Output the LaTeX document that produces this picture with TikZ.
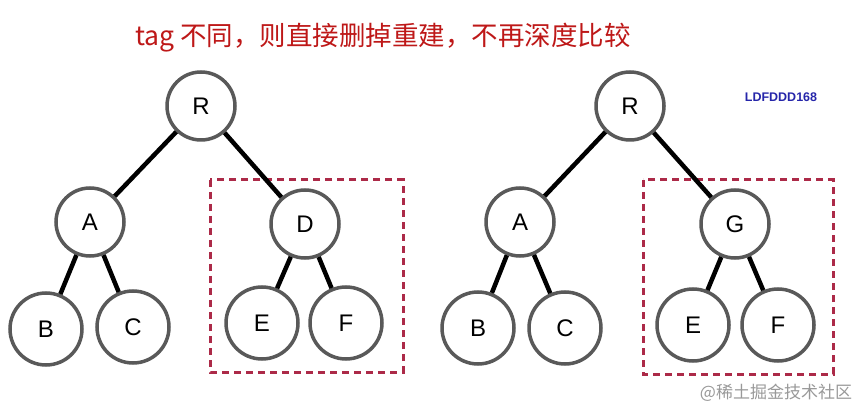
\documentclass[tikz,border=0pt]{standalone}
\usepackage{fontspec}
\setmainfont{Liberation Sans}
\newfontfamily\cjk{Noto Sans CJK SC}[BoldFont={Noto Sans CJK SC Bold}]
\definecolor{titlered}{RGB}{190,24,24}
\definecolor{boxred}{RGB}{172,42,72}
\definecolor{markblue}{RGB}{38,38,170}
\tikzset{
	tnode/.style={circle,draw=black!65,line width=3.5pt,fill=white,minimum size=68pt,inner sep=0pt,font=\fontsize{24}{24}\selectfont},
	tedge/.style={line width=4.5pt,black},
	gbox/.style={draw=boxred,line width=3pt,dash pattern=on 7pt off 5pt}
}
\begin{document}
\begin{tikzpicture}[x=1pt,y=-1pt]
		    \useasboundingbox[fill=white](0,0) rectangle (861,411);
		    \draw[gbox](210,180) rectangle (403,372);
		    \draw[gbox](643,180) rectangle (833,374);
		    \node[tnode](r1) at (201,106) {R};
		    \node[tnode](a1) at (90,222) {A};
		    \node[tnode](d1) at (305,224) {D};
		    \node[tnode,minimum size=72pt](b1) at (46,329) {B};
		    \node[tnode,minimum size=72pt](c1) at (133,327) {C};
		    \node[tnode,minimum size=72pt](e1) at (262,323) {E};
		    \node[tnode,minimum size=72pt](f1) at (346,323) {F};
		    \node[tnode](r2) at (630,106) {R};
		    \node[tnode](a2) at (520,222) {A};
		    \node[tnode](g2) at (735,224) {G};
		    \node[tnode,minimum size=72pt](b2) at (478,328) {B};
		    \node[tnode,minimum size=72pt](c2) at (565,328) {C};
		    \node[tnode,minimum size=72pt](e2) at (693,325) {E};
		    \node[tnode,minimum size=72pt](f2) at (778,325) {F};
		    \draw[tedge](r1)--(a1);
		    \draw[tedge](r1)--(d1);
		    \draw[tedge](a1)--(b1);
		    \draw[tedge](a1)--(c1);
		    \draw[tedge](d1)--(e1);
		    \draw[tedge](d1)--(f1);
		    \draw[tedge](r2)--(a2);
		    \draw[tedge](r2)--(g2);
		    \draw[tedge](a2)--(b2);
		    \draw[tedge](a2)--(c2);
		    \draw[tedge](g2)--(e2);
		    \draw[tedge](g2)--(f2);
		    \node[text=titlered,font=\cjk\fontsize{26.5}{26.5}\selectfont](title) at (383,38) {tag 不同，则直接删掉重建，不再深度比较};
		    \node[text=markblue,font=\bfseries\fontsize{12.5}{12.5}\selectfont](mark) at (781,97) {LDFDDD168};
		    \node[text=black!40,font=\cjk\fontsize{17}{17}\selectfont](wm) at (776,393) {@稀土掘金技术社区};
		\end{tikzpicture}
\end{document}
